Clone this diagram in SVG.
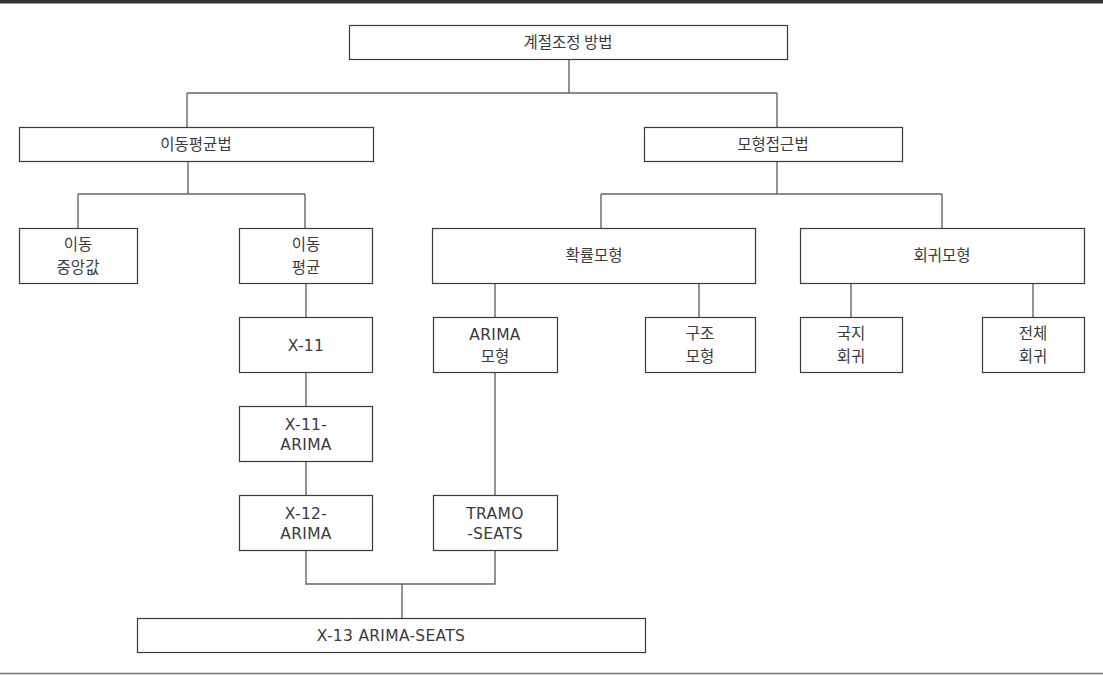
<svg xmlns="http://www.w3.org/2000/svg" width="1103" height="675" viewBox="0 0 1103 675">
<style>
.box{fill:#fff;stroke:#3a3a3a;stroke-width:1.2}
.lbl{font-family:"Noto Sans CJK KR","Noto Sans",sans-serif;font-size:15.5px;fill:#3a3a3a;text-anchor:middle}
.lat{font-family:"DejaVu Sans","Noto Sans CJK KR",sans-serif;font-size:15.5px;letter-spacing:0.3px}
.con{fill:none;stroke:#666;stroke-width:1.4}
</style>
<rect x="0" y="0" width="1103" height="675" fill="#fff"/>
<rect x="0" y="0" width="1103" height="3.5" fill="#333"/>
<line x1="0" y1="673.5" x2="1103" y2="673.5" stroke="#777" stroke-width="1.3"/>
<g id="connectors">
<path class="con" d="M569 59V93M187 93H777M187 93V127M777 93V127"/>
<path class="con" d="M188 161V194M78 194H305M78 194V228M305 194V228"/>
<path class="con" d="M777 161V194M601 194H942M601 194V228M942 194V228"/>
<path class="con" d="M306 283V317M306 372V407M306 461V496M306 550V584H495V550"/>
<path class="con" d="M495 283V317M699 283V317M495 372V496"/>
<path class="con" d="M851 283V317M1033 283V317"/>
<path class="con" d="M402 584V618"/>
</g>
<g id="n-root"><rect class="box" x="349.5" y="25.5" width="438" height="34"/><text class="lbl" x="568" y="48">계절조정 방법</text></g>
<g id="n-ma"><rect class="box" x="19.5" y="127.5" width="354" height="34"/><text class="lbl" x="196" y="150">이동평균법</text></g>
<g id="n-model"><rect class="box" x="644.5" y="127.5" width="258" height="34"/><text class="lbl" x="773" y="150">모형접근법</text></g>
<g id="n-median"><rect class="box" x="19.5" y="228.5" width="118" height="55"/><text class="lbl" x="78" y="250">이동<tspan x="78" dy="22.5">중앙값</tspan></text></g>
<g id="n-avg"><rect class="box" x="239.5" y="228.5" width="133" height="55"/><text class="lbl" x="306" y="250">이동<tspan x="306" dy="22.5">평균</tspan></text></g>
<g id="n-prob"><rect class="box" x="432.5" y="228.5" width="323" height="55"/><text class="lbl" x="594" y="261">확률모형</text></g>
<g id="n-reg"><rect class="box" x="800.5" y="228.5" width="284" height="55"/><text class="lbl" x="942" y="261">회귀모형</text></g>
<g id="n-x11"><rect class="box" x="239.5" y="317.5" width="133" height="55"/><text class="lbl lat" x="306" y="350.5">X-11</text></g>
<g id="n-x11a"><rect class="box" x="239.5" y="406.5" width="133" height="55"/><text class="lbl lat" x="306" y="429.5">X-11-<tspan x="306" dy="20">ARIMA</tspan></text></g>
<g id="n-x12a"><rect class="box" x="239.5" y="495.5" width="133" height="55"/><text class="lbl lat" x="306" y="518.5">X-12-<tspan x="306" dy="20">ARIMA</tspan></text></g>
<g id="n-arima"><rect class="box" x="433.5" y="317.5" width="124" height="55"/><text class="lbl" x="495" y="339.5"><tspan class="lat">ARIMA</tspan><tspan x="495" dy="22">모형</tspan></text></g>
<g id="n-struct"><rect class="box" x="645.5" y="317.5" width="110" height="55"/><text class="lbl" x="700" y="339">구조<tspan x="700" dy="22.5">모형</tspan></text></g>
<g id="n-tramo"><rect class="box" x="433.5" y="495.5" width="124" height="55"/><text class="lbl lat" x="495" y="518.5">TRAMO<tspan x="495" dy="20">-SEATS</tspan></text></g>
<g id="n-local"><rect class="box" x="800.5" y="317.5" width="102" height="55"/><text class="lbl" x="851" y="339">국지<tspan x="851" dy="22.5">회귀</tspan></text></g>
<g id="n-global"><rect class="box" x="982.5" y="317.5" width="102" height="55"/><text class="lbl" x="1033" y="339">전체<tspan x="1033" dy="22.5">회귀</tspan></text></g>
<g id="n-x13"><rect class="box" x="137.5" y="618.5" width="508" height="34"/><text class="lbl lat" x="391" y="641">X-13 ARIMA-SEATS</text></g>
</svg>
